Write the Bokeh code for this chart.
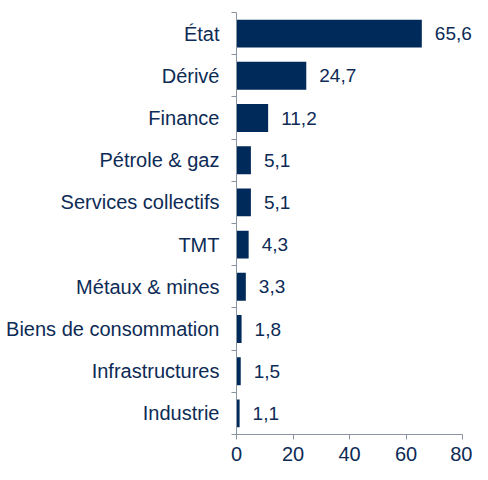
from bokeh.plotting import figure
from bokeh.models import (Range1d, LinearAxis, FixedTicker, ColumnDataSource, LabelSet)
from bokeh.embed import file_html
from bokeh.resources import INLINE
from bokeh.core.properties import value

categories = ["État", "Dérivé", "Finance", "Pétrole & gaz", "Services collectifs",
              "TMT", "Métaux & mines", "Biens de consommation", "Infrastructures",
              "Industrie"]
values = [65.6, 24.7, 11.2, 5.1, 5.1, 4.3, 3.3, 1.8, 1.5, 1.1]
x_ticks = [0, 20, 40, 60, 80]

n = len(categories)
ypos = [n - i - 0.5 for i in range(n)]          # band centres, first category on top
bounds = list(range(n + 1))                      # band boundaries (axis ticks)
labels = [f"{v:.1f}".replace(".", ",") for v in values]

NAVY = "#002A5A"
TEXT = "#0D2B55"
GRAY = "#8A94A0"
FONT = "Liberation Sans"

# layout (pixels)
W, H = 472, 464
LEFT, TOP, BOTTOM = 236, 12, 30
AXIS_PX = 226                     # pixel length of the 0..80 axis
frame_w = W - LEFT
x_end = x_ticks[-1] * frame_w / AXIS_PX   # frame reaches the right edge so labels are not clipped

src = ColumnDataSource(dict(y=ypos, val=values, lab=labels))

p = figure(width=W, height=H,
           y_range=Range1d(0, n), x_range=Range1d(0, x_end),
           output_backend="svg", toolbar_location=None,
           y_axis_location=None,
           min_border_left=LEFT, min_border_right=0,
           min_border_top=TOP, min_border_bottom=BOTTOM)
p.outline_line_color = None
p.xgrid.visible = False
p.ygrid.visible = False
p.background_fill_color = "white"
p.border_fill_color = "white"

cat_axis = LinearAxis(ticker=FixedTicker(ticks=ypos, minor_ticks=bounds),
                      major_label_overrides={float(y): c for y, c in zip(ypos, categories)},
                      axis_line_color=GRAY,
                      major_tick_line_color=None, major_tick_out=5, major_tick_in=0,
                      minor_tick_line_color=GRAY, minor_tick_out=5, minor_tick_in=0,
                      major_label_standoff=12,
                      major_label_text_font=FONT,
                      major_label_text_font_size="20px",
                      major_label_text_color=TEXT)
p.add_layout(cat_axis, "left")

p.xaxis.ticker = FixedTicker(ticks=x_ticks)
p.xaxis.bounds = (x_ticks[0], x_ticks[-1])
p.xaxis.axis_line_color = GRAY
p.xaxis.major_tick_line_color = GRAY
p.xaxis.major_tick_out = 5
p.xaxis.major_tick_in = 0
p.xaxis.minor_tick_line_color = None
p.xaxis.major_label_standoff = 7
p.xaxis.major_label_text_font = FONT
p.xaxis.major_label_text_font_size = "20px"
p.xaxis.major_label_text_color = TEXT

p.hbar(y="y", left=0, right="val", height=0.66, source=src,
       fill_color=NAVY, line_color=None)

p.add_layout(LabelSet(x="val", y="y", text="lab", source=src, x_offset=13,
                      text_align="left", text_baseline="middle",
                      text_font=value(FONT), text_font_size="19px", text_color=TEXT))

open("out.html", "w").write(file_html(p, INLINE))
